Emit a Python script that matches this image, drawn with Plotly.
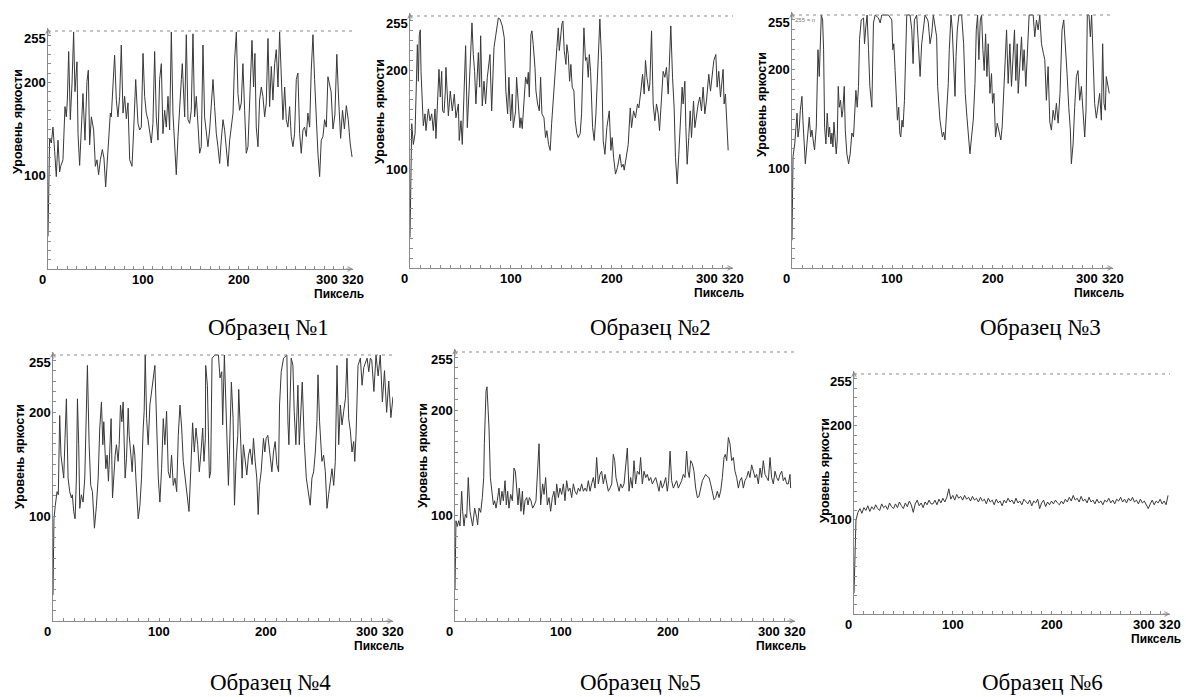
import plotly.graph_objects as go

# ---------------------------------------------------------------
# Brightness profiles (pixel index -> brightness level 0..255)
# ---------------------------------------------------------------
P1_X = [0, 1.7, 3.5, 5.2, 7, 8.7, 10.5, 12.2, 13.3, 15.7,
        17.8, 19.2, 20.3, 21.7, 23.4, 25.2, 26.9, 28.3, 30.4, 31.5,
        33.2, 35.7, 36.7, 38.8, 40.9, 42.3, 43.7, 45.5, 47.9, 49.7,
        51.4, 53.1, 54.9, 57, 58.7, 60.5, 62.9, 65.4, 66.4, 68.2,
        69.9, 71.7, 73.4, 75.2, 76.9, 78.7, 80.4, 82.2, 83.9, 85.7,
        88.1, 89.9, 92, 94.4, 96.2, 97.9, 99.7, 101.4, 103.1, 104.9,
        106.6, 108.4, 110.1, 111.9, 113.6, 115.4, 117.1, 118.9, 120.6, 122.4,
        124.1, 125.9, 127.6, 129.4, 131.1, 132.9, 134.6, 136.4, 138.1, 139.9,
        140.9, 143.4, 145.1, 146.9, 148.6, 150.3, 152.1, 153.8, 155.6, 157.3,
        159.1, 160.8, 162.6, 164.3, 166.1, 167.8, 169.6, 171.7, 173.1, 174.8,
        176.6, 178.3, 180.1, 181.8, 183.6, 185.3, 187.1, 188.8, 190.6, 192.3,
        194.1, 195.8, 197.6, 199.3, 201, 202.8, 204.5, 206.3, 208, 209.8,
        211.5, 214, 215.7, 217.1, 218.5, 220.3, 222, 223.8, 225.5, 227.3,
        229, 230.8, 232.5, 234.3, 236, 237.8, 239.5, 241.3, 243, 244.8,
        246.5, 248.3, 250, 251.7, 253.5, 255.2, 257, 258.7, 260.5, 262.2,
        264, 265.7, 267.5, 269.2, 271, 272.7, 274.5, 276.2, 278, 279.7,
        281.5, 283.2, 285, 286.7, 288.5, 290.2, 292, 293.7, 297, 299,
        301, 303, 305, 307, 309, 311, 313, 315, 317, 319]
P1_Y = [35, 140, 135, 152, 126, 99, 138, 104, 110, 117,
        174, 163, 181, 233, 160, 199, 254, 190, 222, 145,
        111, 181, 188, 138, 201, 213, 133, 163, 149, 110,
        117, 101, 117, 128, 119, 88, 128, 167, 163, 195,
        229, 181, 163, 185, 240, 167, 185, 161, 178, 117,
        110, 149, 203, 156, 149, 152, 231, 185, 167, 160,
        149, 135, 156, 233, 163, 138, 203, 220, 145, 170,
        152, 185, 149, 254, 167, 131, 101, 142, 178, 203,
        220, 163, 251, 160, 156, 170, 252, 163, 185, 149,
        124, 131, 240, 163, 149, 131, 149, 188, 203, 174,
        145, 131, 113, 138, 160, 149, 131, 110, 138, 152,
        167, 224, 254, 188, 170, 178, 220, 170, 124, 131,
        185, 245, 195, 231, 152, 131, 181, 195, 185, 163,
        178, 247, 174, 217, 181, 220, 235, 195, 254, 203,
        160, 195, 160, 152, 174, 142, 131, 145, 203, 210,
        145, 124, 149, 152, 142, 167, 152, 213, 251, 203,
        152, 124, 99, 138, 142, 160, 152, 206, 190, 150,
        165, 230, 180, 140, 170, 150, 175, 160, 135, 120]

P2_X = [0, 1.7, 3.3, 5, 7.3, 8.3, 9.2, 10.2, 10.9, 12.5,
        13.2, 14.9, 15.8, 18.2, 19.8, 21.5, 23.1, 24.8, 25.7, 28.7,
        30, 31.4, 32.3, 33.7, 35, 35.6, 38, 39.9, 41.9, 43.9,
        45.5, 47.9, 48.8, 50.5, 51.8, 55.1, 56.8, 58.5, 61.4, 62.7,
        64, 65.3, 67.7, 69, 70, 71.6, 73.3, 74.9, 76.6, 79.2,
        80.9, 83.2, 87.5, 89.1, 91.4, 93.4, 95, 96.7, 98, 99.7,
        101.3, 102.3, 104.6, 105.6, 107.3, 108.9, 109.9, 111.2, 114.5, 116.2,
        117.2, 118.2, 119.8, 120.8, 122.1, 123.8, 124.8, 126.4, 128.1, 129.4,
        130.7, 132.7, 134.3, 135.6, 137.3, 138.9, 140.3, 142.2, 143.6, 145.5,
        146.9, 147.9, 150.5, 151.5, 152.8, 154.5, 155.4, 156.8, 158.1, 159.4,
        160.7, 162.4, 163.7, 165.3, 166.7, 168.6, 170, 171, 172.3, 173.9,
        175.2, 176.6, 177.6, 178.9, 180.9, 182.5, 184.2, 188.1, 189.8, 191.4,
        193.1, 195, 197.4, 199, 200.3, 201.7, 203.6, 205.6, 207.9, 209.6,
        211.2, 212.2, 214.5, 216.2, 218.2, 219.5, 221.5, 223.4, 225.4, 226.7,
        228.7, 230.4, 232, 233.3, 234.7, 236.6, 237.6, 239.3, 240.9, 242.6,
        244.2, 245.9, 247.2, 249.2, 250.8, 252.5, 254.1, 255.8, 258.4, 260.1,
        261.7, 263, 264.7, 266.3, 267.7, 269.6, 270.6, 272.3, 273.3, 274.6,
        276.2, 277.6, 278.9, 280.9, 282.2, 283.8, 285.5, 287.1, 288.8, 290.4,
        292.1, 293.7, 296, 297.7, 299.3, 301, 303, 304.3, 305.9, 307.6,
        310.2, 311.2, 312.5, 315.2]
P2_Y = [31, 146, 125, 136, 226, 189, 236, 241, 199, 146,
        144, 156, 139, 161, 149, 156, 139, 161, 131, 201,
        173, 199, 159, 157, 179, 203, 154, 179, 159, 176,
        152, 166, 129, 149, 125, 225, 142, 180, 248, 216,
        199, 166, 218, 183, 235, 164, 189, 166, 193, 216,
        159, 223, 253, 252, 245, 233, 179, 156, 193, 149,
        176, 142, 159, 193, 159, 142, 152, 141, 193, 186,
        198, 173, 236, 240, 226, 203, 179, 166, 159, 193,
        156, 152, 132, 139, 125, 119, 146, 176, 203, 223,
        243, 220, 247, 250, 220, 206, 226, 216, 189, 206,
        183, 179, 149, 136, 132, 136, 156, 189, 243, 210,
        213, 193, 216, 199, 142, 129, 156, 252, 210, 129,
        115, 142, 159, 119, 132, 112, 95, 102, 115, 102,
        105, 99, 112, 125, 162, 142, 159, 152, 166, 162,
        179, 196, 176, 210, 193, 179, 186, 240, 166, 149,
        166, 156, 139, 169, 199, 193, 203, 176, 245, 193,
        162, 112, 85, 115, 152, 183, 166, 189, 142, 105,
        132, 159, 132, 169, 142, 156, 166, 173, 159, 183,
        156, 169, 196, 179, 193, 210, 216, 183, 199, 173,
        201, 166, 176, 119]

P3_X = [0, 1, 2.7, 4, 5, 6, 7.3, 8.3, 9.9, 10.9,
        12.3, 13.3, 14.9, 15.9, 17.2, 18.6, 19.9, 21.6, 22.5, 24.2,
        24.9, 25.9, 27.2, 28.2, 29.2, 30.5, 31.5, 32.5, 33.8, 35.1,
        36.5, 37.5, 38.8, 39.8, 40.8, 41.8, 43.1, 44.1, 45.1, 46.1,
        47.1, 48.4, 49.7, 50.7, 52.1, 53.1, 54.7, 56.4, 58, 59.7,
        61.3, 62.3, 63.7, 65, 66.3, 67.3, 69, 71.3, 72.3, 73.6,
        74.9, 76.3, 77.6, 79.6, 81.2, 82.9, 86.2, 87.9, 89.5, 96.2,
        99.5, 100.5, 101.5, 102.8, 104.1, 105.1, 106.4, 107.4, 108.4, 109.7,
        110.7, 112.1, 114.4, 117.7, 119.4, 120.7, 122, 124.3, 126, 127.7,
        129.3, 131, 132.6, 135.3, 135.9, 137.6, 139.3, 140.9, 144.2, 145.2,
        147.5, 149.9, 151.2, 152.5, 154.2, 155.8, 156.8, 158.5, 159.8, 161.1,
        162.5, 163.5, 164.8, 166.4, 169.1, 171.1, 172.7, 174.4, 176.1, 177.4,
        179, 180.7, 182.4, 183.7, 185, 186.3, 187.7, 189, 190.3, 191.6,
        193, 194.3, 195.6, 197.3, 198.9, 199.9, 201.3, 202.9, 204.6, 206.2,
        208.2, 209.5, 210.9, 212.2, 213.9, 215.5, 217.2, 218.8, 220.5, 221.8,
        223.1, 224.5, 225.5, 227.1, 228.8, 230.1, 231.4, 233.1, 234.7, 236.4,
        240.4, 242, 243.7, 245.4, 247, 248.7, 250.7, 252, 253.6, 255.3,
        257, 258.6, 260.3, 261.9, 263.6, 265.3, 267.2, 269.2, 270.9, 272.5,
        274.2, 275.9, 277.5, 278.5, 280.2, 281.8, 283.5, 285.1, 286.8, 288.5,
        290.1, 291.8, 293.1, 294.4, 296.1, 297.4, 298.7, 300.1, 301.7, 303.4,
        305, 306.7, 308.4, 309.7, 311, 312.3, 313.3, 315, 316.3]
P3_Y = [28, 112, 125, 149, 156, 132, 142, 159, 173, 149,
        125, 105, 125, 142, 152, 132, 139, 125, 119, 142,
        196, 220, 193, 240, 255, 250, 220, 142, 125, 156,
        132, 142, 125, 136, 122, 147, 125, 115, 129, 183,
        162, 169, 152, 159, 183, 139, 115, 105, 115, 136,
        132, 156, 179, 162, 183, 230, 250, 252, 226, 243,
        255, 220, 183, 162, 247, 255, 252, 247, 255, 255,
        250, 220, 226, 199, 162, 149, 162, 136, 132, 149,
        142, 169, 255, 255, 240, 206, 250, 255, 226, 193,
        226, 243, 255, 250, 247, 226, 236, 255, 233, 183,
        149, 132, 137, 129, 159, 186, 220, 255, 240, 203,
        173, 213, 240, 255, 255, 226, 176, 152, 132, 115,
        132, 149, 186, 240, 255, 210, 250, 255, 220, 199,
        236, 193, 226, 176, 196, 166, 176, 132, 146, 139,
        129, 142, 176, 213, 240, 186, 226, 183, 210, 240,
        189, 226, 176, 210, 233, 199, 220, 183, 226, 255,
        255, 233, 250, 240, 255, 226, 216, 210, 169, 203,
        147, 139, 159, 149, 166, 146, 176, 240, 250, 226,
        196, 162, 139, 105, 125, 162, 193, 199, 169, 183,
        152, 132, 159, 255, 255, 233, 255, 220, 166, 151,
        166, 176, 149, 226, 166, 159, 193, 183, 176]

P4_X = [0, 0.9, 2.2, 3.8, 5, 6.3, 7.5, 8.8, 10.1, 11.3,
        12.6, 14.2, 15.7, 17.3, 18.2, 19.5, 20.8, 22, 23, 24.2,
        25.2, 26.7, 28.3, 29.9, 32.4, 34, 35.5, 37.1, 39, 40.9,
        42.5, 44, 45.6, 46.9, 47.8, 49.7, 50.9, 52.2, 53.5, 54.7,
        56, 57.2, 58.5, 59.7, 61.3, 62.3, 63.5, 64.8, 66, 67.9,
        69.2, 70.8, 71.7, 73.3, 74.5, 75.8, 77, 78, 79.2, 80.2,
        81.8, 83.3, 84.9, 85.8, 86.8, 88.1, 89.6, 91.2, 95.9, 97.5,
        99.1, 100.6, 102.2, 103.8, 105.3, 106.9, 108.5, 110.1, 111.6, 113.2,
        114.8, 116.4, 117.9, 119.5, 121.1, 122.6, 128, 129.6, 131.4, 133,
        134.6, 136.2, 137.7, 139.3, 140.9, 142.1, 143.4, 143.7, 145.3, 147.2,
        148.4, 149.7, 152.5, 155.7, 157.2, 158.8, 159.7, 161.3, 163.5, 165.1,
        166, 167.9, 169.5, 170.8, 172.3, 173.9, 174.8, 176.1, 178, 179.2,
        180.8, 182.4, 184, 185.5, 187.4, 188.7, 190.3, 191.8, 193.1, 194.3,
        195.9, 197.2, 198.1, 199.4, 200.6, 202.2, 203.1, 204.4, 206, 207.5,
        209.1, 210.7, 212.3, 213.2, 214.8, 217, 220.1, 221.1, 222, 224.2,
        225.8, 227, 228.6, 230.5, 231.8, 234.6, 236.5, 238.4, 240.3, 242.1,
        243.7, 245.3, 246.9, 248.4, 249.4, 250.9, 253.1, 254.7, 256.3, 257.9,
        259.4, 261, 262.6, 264.2, 265.7, 267.3, 268.9, 270.4, 272, 273.6,
        275.2, 276.7, 278.3, 279.9, 281.4, 283, 284, 285.2, 287.1, 289.3,
        290.9, 292.5, 295.6, 297.2, 298.7, 300, 302, 304, 306, 308,
        310, 312, 314, 316, 318, 320]
P4_Y = [25, 98, 111, 124, 121, 197, 159, 150, 137, 175,
        213, 137, 124, 118, 121, 105, 98, 137, 213, 169,
        108, 121, 114, 137, 245, 169, 130, 124, 89, 111,
        137, 185, 210, 169, 191, 146, 159, 134, 169, 194,
        118, 143, 159, 169, 153, 169, 207, 191, 210, 137,
        156, 204, 178, 159, 143, 169, 159, 137, 114, 98,
        111, 137, 185, 201, 255, 194, 169, 207, 245, 185,
        137, 114, 146, 194, 169, 201, 143, 137, 159, 130,
        137, 124, 178, 207, 185, 153, 105, 143, 190, 162,
        185, 169, 143, 162, 185, 153, 175, 245, 226, 137,
        143, 252, 255, 255, 233, 239, 188, 255, 182, 130,
        159, 229, 194, 111, 153, 178, 222, 185, 137, 169,
        153, 140, 159, 165, 150, 175, 153, 137, 102, 130,
        143, 162, 175, 162, 175, 178, 169, 156, 143, 162,
        172, 150, 143, 207, 239, 252, 255, 191, 169, 252,
        245, 201, 169, 226, 169, 229, 172, 137, 123, 111,
        137, 143, 162, 191, 236, 191, 153, 159, 143, 108,
        121, 137, 146, 130, 153, 245, 169, 207, 188, 201,
        213, 252, 194, 182, 162, 172, 153, 178, 245, 252,
        226, 243, 252, 239, 252, 250, 220, 255, 235, 255,
        210, 240, 200, 230, 195, 215]

P5_X = [0, 0.9, 2.2, 3.5, 4.7, 6.3, 7.2, 8.5, 9.7, 11,
        12.5, 14.1, 16.6, 18.5, 20.4, 21.3, 22.6, 24.2, 25.7, 27,
        27.6, 29.2, 30.1, 31.1, 32, 33.3, 34.5, 36.1, 37.3, 38.6,
        39.8, 41.4, 42.7, 44.2, 45.5, 47.1, 48.3, 49.6, 50.8, 52.4,
        54, 55.5, 56.8, 58, 59.3, 60.5, 62.1, 63.4, 64.6, 65.9,
        67.5, 68.7, 70, 71.5, 73.1, 74.7, 76.2, 79.1, 80.6, 82.5,
        83.8, 85.3, 86.9, 88.5, 90, 91.6, 93.2, 94.4, 95.7, 97.3,
        98.8, 100.4, 102, 103.5, 105.1, 106.7, 108.2, 109.8, 111.4, 112.9,
        114.5, 116.1, 117.6, 119.2, 120.8, 122.4, 123.9, 125.5, 127.1, 128.6,
        130.2, 131.8, 133.3, 134.9, 136.5, 138, 139.6, 141.2, 142.7, 144.3,
        145.9, 147.5, 149, 150.3, 151.5, 152.8, 154.4, 155.9, 157.5, 159.1,
        162.2, 163.8, 165.3, 166.9, 168.5, 170, 171.6, 173.5, 174.7, 176.3,
        177.9, 179.5, 181, 182.6, 184.2, 185.7, 187.3, 188.9, 190.4, 192,
        193.6, 195.1, 196.7, 198.3, 199.8, 201.1, 202.4, 203.9, 205.5, 207.1,
        208.6, 210.2, 211.8, 213.3, 214.9, 216.5, 218, 219.3, 220.5, 221.8,
        223.4, 224.9, 226.5, 228.1, 229.6, 231.2, 232.8, 234.4, 235.9, 237.5,
        239.1, 240.6, 242.2, 243.8, 245.3, 246.9, 248.5, 250, 251.6, 253.2,
        254.4, 255.7, 257.3, 258.8, 260.4, 262, 263.5, 265.1, 266.7, 268.2,
        269.8, 271.4, 272.9, 274.5, 276.1, 277.6, 279.2, 280.8, 282.4, 283.9,
        285.5, 287.1, 288.6, 290.2, 291.8, 293.3, 294.9, 296.5, 298, 299.6,
        301.2, 302.7, 304.3, 305.9, 307.5, 309, 310.6, 312.2, 313.7, 315.3,
        315.9]
P5_Y = [30, 95, 90, 95, 90, 123, 104, 90, 101, 98,
        136, 104, 90, 107, 98, 91, 107, 103, 117, 136,
        168, 218, 222, 199, 183, 136, 123, 110, 114, 107,
        114, 126, 110, 123, 114, 133, 110, 123, 107, 120,
        114, 145, 142, 123, 110, 126, 104, 123, 101, 114,
        117, 110, 117, 114, 107, 110, 114, 168, 110, 130,
        120, 136, 110, 117, 104, 117, 123, 110, 130, 117,
        126, 120, 130, 114, 133, 123, 126, 117, 130, 123,
        120, 126, 123, 130, 123, 126, 123, 133, 123, 130,
        136, 126, 155, 130, 139, 142, 130, 139, 130, 123,
        126, 130, 158, 152, 136, 130, 123, 130, 126, 130,
        164, 123, 136, 126, 152, 130, 142, 139, 155, 130,
        142, 136, 139, 133, 136, 130, 133, 136, 130, 123,
        133, 126, 130, 136, 123, 133, 161, 133, 126, 130,
        133, 126, 130, 133, 139, 136, 161, 142, 136, 152,
        149, 142, 126, 117, 118, 126, 133, 136, 139, 137,
        136, 130, 123, 115, 117, 123, 117, 123, 136, 155,
        158, 152, 174, 168, 152, 155, 142, 136, 126, 133,
        136, 126, 133, 136, 142, 136, 148, 142, 136, 139,
        130, 145, 136, 152, 139, 136, 133, 155, 136, 130,
        142, 136, 133, 139, 142, 133, 136, 130, 130, 139,
        126]

# Sample 6 is read at every second pixel
P6_X = list(range(0, 320, 2))
P6_Y = [22, 100, 108, 112, 107, 113, 110, 115, 109, 114, 111, 116, 112, 110, 117, 113, 115, 111, 118, 114,
        112, 117, 113, 119, 115, 112, 118, 114, 120, 116, 108, 117, 121, 115, 118, 113, 119, 116, 121, 117,
        117, 121, 116, 122, 118, 123, 119, 124, 133, 122, 126, 121, 127, 123, 125, 121, 126, 122, 124, 120,
        125, 121, 123, 119, 124, 120, 122, 117, 123, 119, 121, 116, 122, 118, 120, 115, 121, 118, 123, 119,
        121, 117, 123, 118, 120, 116, 122, 119, 117, 121, 115, 120, 118, 122, 112, 118, 121, 114, 119, 116,
        120, 117, 121, 118, 116, 120, 117, 122, 119, 124, 120, 126, 121, 123, 119, 125, 120, 122, 118, 124,
        119, 121, 117, 122, 118, 120, 116, 121, 119, 123, 118, 121, 117, 122, 120, 124, 119, 122, 118, 123,
        120, 124, 119, 121, 117, 122, 118, 120, 116, 112, 117, 121, 116, 120, 118, 122, 117, 120, 116, 126]

CAPTIONS = ["Образец №1", "Образец №2", "Образец №3",
            "Образец №4", "Образец №5", "Образец №6"]
X_TICKS = [100, 200]
Y_TICKS = [100, 200]
Y_TITLE = "Уровень яркости"
X_TITLE = "Пиксель"

SERIES = [(P1_X, P1_Y), (P2_X, P2_Y), (P3_X, P3_Y),
          (P4_X, P4_Y), (P5_X, P5_Y), (P6_X, P6_Y)]

# ---------------------------------------------------------------
# Page layout (pixels on a 1186 x 697 canvas)
# ---------------------------------------------------------------
W, H = 1186, 697
# x of pixel 0, x of pixel 320, y of level 0, y of level 255
FRAMES = [
    (48, 353, 269, 31),
    (410, 733, 268, 16),
    (792, 1113, 268, 15),
    (53, 393, 621, 355),
    (455, 795, 621, 352),
    (854, 1170, 614, 374),
]
YTITLE_POS = [(18, 122), (380, 112), (762, 105), (20, 457), (423, 456), (825, 471)]
CAPTION_POS = [(268, 327), (650, 327), (1040, 327), (270, 682), (640, 682), (1042, 682)]

Y_TOP = 258
SANS = "Liberation Sans, Arial, sans-serif"
SERIF = "Liberation Serif, Times New Roman, serif"
AXIS_GREY = "#8a8a8a"
LINE_COL = "#383838"
BLACK = "#000000"

fig = go.Figure()
annotations = []
shapes = []
layout_axes = {}


def label(xa, ya, x, y, text, xanchor, yanchor, xshift=0, yshift=0, size=13):
    return dict(xref=xa, yref=ya, x=x, y=y, text=text, showarrow=False,
                xanchor=xanchor, yanchor=yanchor, xshift=xshift, yshift=yshift,
                borderpad=0, font=dict(family=SANS, size=size, color=BLACK))


for i, ((xs, ys), (px0, px1, py0, py255)) in enumerate(zip(SERIES, FRAMES), start=1):
    sfx = "" if i == 1 else str(i)
    xa, ya = "x" + sfx, "y" + sfx
    scale = (py0 - py255) / 255.0
    top_px = py0 - Y_TOP * scale
    layout_axes["xaxis" + sfx] = dict(
        domain=[px0 / W, px1 / W], range=[0, 320], anchor=ya,
        showline=True, linecolor=AXIS_GREY, linewidth=1,
        ticks="inside", ticklen=3, tickcolor=AXIS_GREY, tickwidth=1,
        tick0=0, dtick=10, showticklabels=False,
        showgrid=False, zeroline=False, fixedrange=True)
    layout_axes["yaxis" + sfx] = dict(
        domain=[1 - py0 / H, 1 - top_px / H], range=[0, Y_TOP], anchor=xa,
        showline=True, linecolor=AXIS_GREY, linewidth=1,
        ticks="inside", ticklen=3, tickcolor=AXIS_GREY, tickwidth=1,
        tick0=0, dtick=10, showticklabels=False,
        showgrid=False, zeroline=False, fixedrange=True)

    fig.add_trace(go.Scatter(x=xs, y=ys, mode="lines", xaxis=xa, yaxis=ya,
                             line=dict(color=LINE_COL, width=1), hoverinfo="skip"))

    # saturation level
    shapes.append(dict(type="line", xref=xa, yref=ya, x0=0, x1=320, y0=255, y1=255,
                       line=dict(color=AXIS_GREY, width=1, dash="3px,4px")))

    # axis arrows
    annotations.append(dict(xref=xa, yref=ya, x=320, y=0, ax=-9, ay=0, text="",
                            showarrow=True, arrowhead=5, arrowsize=0.9,
                            arrowwidth=1, arrowcolor=AXIS_GREY))
    annotations.append(dict(xref=xa, yref=ya, x=0, y=Y_TOP, ax=0, ay=9, text="",
                            showarrow=True, arrowhead=5, arrowsize=0.9,
                            arrowwidth=1, arrowcolor=AXIS_GREY))

    # y tick labels
    annotations.append(label(xa, ya, 0, 255, "<b>255</b>", "right", "top", -1, 1))
    for v in Y_TICKS:
        annotations.append(label(xa, ya, 0, v, "<b>%d</b>" % v, "right", "middle", -1))
    # x tick labels
    annotations.append(label(xa, ya, 0, 0, "<b>0</b>", "right", "top", -1, -2))
    for v in X_TICKS:
        annotations.append(label(xa, ya, v, 0, "<b>%d</b>" % v, "center", "top", 0, -2))
    annotations.append(label(xa, ya, 320, 0, "<b>300</b>", "right", "top", -14, -2))
    annotations.append(label(xa, ya, 320, 0, "<b>320</b>", "center", "top", 0, -2))
    annotations.append(label(xa, ya, 320, 0, "<b>%s</b>" % X_TITLE, "right", "top",
                             12, -17, size=12))

    # vertical axis title
    tx, ty = YTITLE_POS[i - 1]
    annotations.append(dict(xref="paper", yref="paper", x=tx / W, y=1 - ty / H,
                            text="<b>%s</b>" % Y_TITLE, textangle=-90, showarrow=False,
                            xanchor="center", yanchor="middle", borderpad=0,
                            font=dict(family=SANS, size=12.5, color=BLACK)))

    # caption under each profile
    cx, cy = CAPTION_POS[i - 1]
    annotations.append(dict(xref="paper", yref="paper", x=cx / W, y=1 - cy / H,
                            text=CAPTIONS[i - 1], showarrow=False, borderpad=0,
                            xanchor="center", yanchor="middle",
                            font=dict(family=SERIF, size=23, color=BLACK)))

# small level note inside sample 3
annotations.append(dict(xref="x3", yref="y3", x=2, y=255, text="255 = n",
                        showarrow=False, xanchor="left", yanchor="top", yshift=-1,
                        borderpad=0, font=dict(family=SANS, size=6, color="#777777")))

fig.update_layout(
    width=W, height=H, margin=dict(l=0, r=0, t=0, b=0),
    paper_bgcolor="white", plot_bgcolor="white", showlegend=False,
    annotations=annotations, shapes=shapes, **layout_axes)

fig.write_html("out.html")
